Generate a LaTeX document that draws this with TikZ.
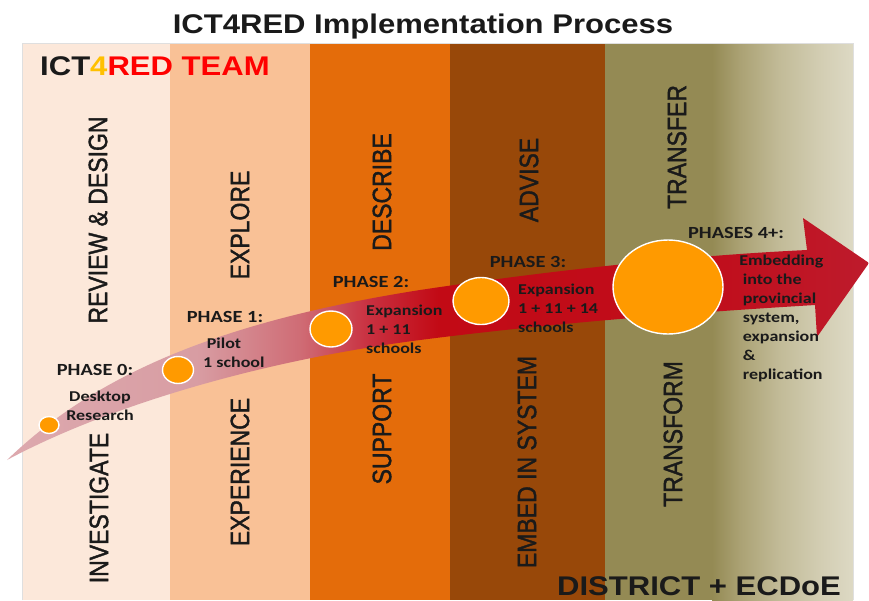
\documentclass[tikz,border=0pt]{standalone}
\usepackage{fontspec}
\setmainfont{Liberation Sans}
\newfontfamily\calfont{Carlito}
\newfontfamily\vfont[FakeBold=1.6]{Liberation Sans}
\usetikzlibrary{shapes.geometric}
\definecolor{colA}{HTML}{FCE8DA}
\definecolor{colB}{HTML}{F9C196}
\definecolor{colC}{HTML}{E46C0A}
\definecolor{colD}{HTML}{984809}
\definecolor{colE}{HTML}{948A54}
\definecolor{colF}{HTML}{ABA274}
\definecolor{colG}{HTML}{C2BB98}
\definecolor{colH}{HTML}{D2CDB2}
\definecolor{colI}{HTML}{DDD9C4}
\definecolor{aA}{HTML}{DDA9AE}
\definecolor{aB}{HTML}{D89DA3}
\definecolor{aC}{HTML}{CF6C75}
\definecolor{aD}{HTML}{C93040}
\definecolor{aE}{HTML}{C20A15}
\definecolor{aF}{HTML}{C00E1C}
\definecolor{aG}{HTML}{BE1B2C}
\definecolor{dotor}{HTML}{FF9A00}
\definecolor{txt}{HTML}{1A1A1A}
\definecolor{four}{HTML}{FFC000}
\definecolor{redt}{HTML}{FF0000}
\pgfdeclarehorizontalshading{arrowshade}{100bp}{color(0bp)=(aA); color(25bp)=(aA); color(36bp)=(aB); color(42bp)=(aC); color(46bp)=(aD); color(50bp)=(aE); color(66bp)=(aF); color(75bp)=(aG); color(100bp)=(aG)}
\pgfdeclarehorizontalshading{oliveshade}{100bp}{color(0bp)=(colE); color(25bp)=(colE); color(35bp)=(colF); color(49bp)=(colG); color(63bp)=(colH); color(75bp)=(colI); color(100bp)=(colI)}
\tikzset{
  vlabel/.style={rotate=90, font=\vfont\fontsize{23}{26}\selectfont, text=txt, inner sep=0pt},
  hdr/.style={font=\calfont\bfseries\fontsize{17}{20}\selectfont, inner sep=0pt, text=txt, xscale=1.2},
  body/.style={font=\calfont\bfseries\fontsize{15}{19}\selectfont, inner sep=0pt, text=txt, align=left, xscale=1.2},
  dot/.style={ellipse, fill=dotor, draw=white, line width=1.4pt, inner sep=0pt},
  big/.style={font=\bfseries\fontsize{27}{30}\selectfont, inner sep=0pt, text=txt, xscale=1.15}
}
\begin{document}
\begin{tikzpicture}[x=1pt,y=-1pt]
\useasboundingbox (0,0) rectangle (869,600);
\fill[white] (0,0) rectangle (869,600);
% columns
\fill[colA] (22,43) rectangle (170,600);
\fill[colB] (170,43) rectangle (310,600);
\fill[colC] (310,43) rectangle (450,600);
\fill[colD] (450,43) rectangle (605,600);
\fill[colE] (605,43) rectangle (712.5,600);
\shade[shading=oliveshade] (712,43) rectangle (853,600);
\draw[gray!25, line width=0.8pt] (22,600) -- (22,43) -- (853,43) -- (853,600);
% titles
\node[big, anchor=base] (title) at (423,33) {ICT4RED Implementation Process};
\node[big, anchor=base west] (team) at (40,75) {ICT\textcolor{four}{4}\textcolor{redt}{RED TEAM}};
\node[big, anchor=base] (district) at (699,595) {DISTRICT + ECDoE};
% vertical labels
\node[vlabel] (rev) at (98,220) {\scalebox{1}[1.15]{REVIEW \& DESIGN}};
\node[vlabel] (inv) at (99,508) {\scalebox{1}[1.15]{INVESTIGATE}};
\node[vlabel] (exp) at (240,225) {\scalebox{1}[1.15]{EXPLORE}};
\node[vlabel] (expe) at (240,472) {\scalebox{1}[1.15]{EXPERIENCE}};
\node[vlabel] (des) at (382,192) {\scalebox{1}[1.15]{DESCRIBE}};
\node[vlabel] (sup) at (382,429) {\scalebox{1}[1.15]{SUPPORT}};
\node[vlabel] (adv) at (529,180) {\scalebox{1}[1.15]{ADVISE}};
\node[vlabel] (emb) at (527,462) {\scalebox{1}[1.15]{EMBED IN SYSTEM}};
\node[vlabel] (trf) at (677,147) {\scalebox{1}[1.15]{TRANSFER}};
\node[vlabel] (trm) at (673,434) {\scalebox{1}[1.15]{TRANSFORM}};
% arrow
\shade[shading=arrowshade] (7,460) .. controls (100,370) and (230,320) .. (420,290)
  .. controls (540,272) and (680,256) .. (807,250) -- (803,218) -- (869,263) -- (817,337) -- (815,305)
  .. controls (700,312) and (560,322) .. (420,340) .. controls (250,362) and (100,410) .. cycle;
% dots
\node[dot, minimum width=20pt, minimum height=17pt] (c0) at (49,425) {};
\node[dot, minimum width=31pt, minimum height=27pt] (c1) at (178,370) {};
\node[dot, minimum width=42pt, minimum height=36pt] (c2) at (331,329) {};
\node[dot, minimum width=56pt, minimum height=47pt] (c3) at (481,301) {};
\node[dot, minimum width=110pt, minimum height=94pt] (c4) at (668,287) {};
% phase texts
\node[hdr] (p0) at (95,370) {PHASE 0:};
\node[body, align=center] (t0) at (100,406) {Desktop\\Research};
\node[hdr] (p1) at (225,317) {PHASE 1:};
\node[body, anchor=west] (t1) at (203,353) {\hspace*{3pt}Pilot\\1 school};
\node[hdr] (p2) at (371,282) {PHASE 2:};
\node[body, anchor=west] (t2) at (366,329) {Expansion\\1 + 11\\schools};
\node[hdr] (p3) at (528,262) {PHASE 3:};
\node[body, anchor=west] (t3) at (518,308) {Expansion\\1 + 11 + 14\\schools};
\node[hdr] (p4) at (736,233) {PHASES 4+:};
\node[body, anchor=west] (t4) at (739,318) {Embedding\\\hspace*{3pt}into the\\\hspace*{3pt}provincial\\\hspace*{3pt}system,\\\hspace*{3pt}expansion\\\hspace*{3pt}\&\\\hspace*{3pt}replication};
\end{tikzpicture}
\end{document}
